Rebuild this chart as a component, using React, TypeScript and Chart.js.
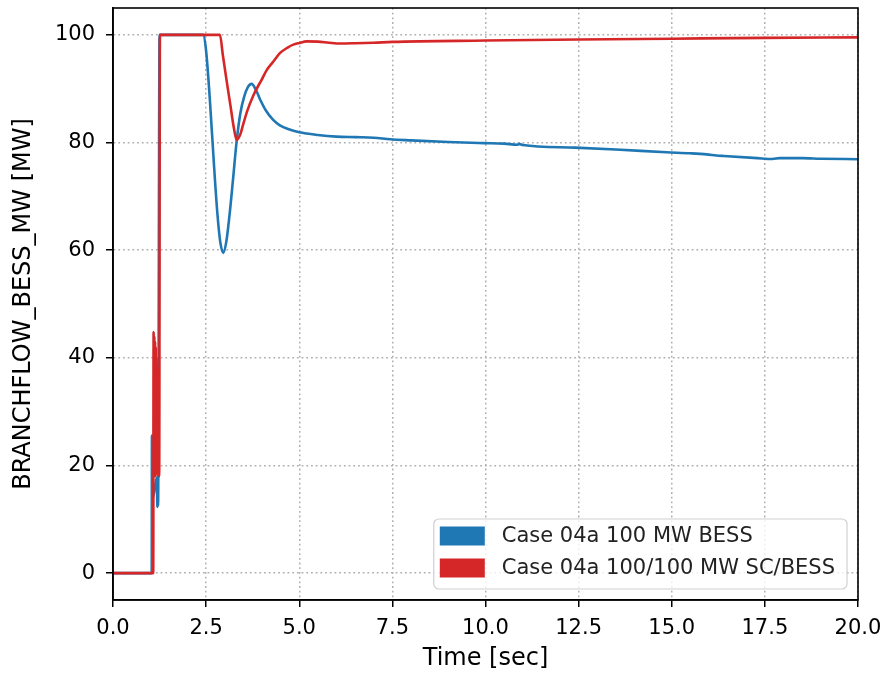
import { useEffect, useRef } from 'react';
import { Chart, registerables } from 'chart.js';

Chart.register(...registerables);

// Time axis [sec] and branch flow [MW] for the BESS-only case
const bessTime = [
  0, 1.04, 1.045, 1.05, 1.055, 1.06, 1.065, 1.07, 1.18, 1.19, 1.2, 1.21, 1.25,
  2.42, 2.5, 2.6, 2.7, 2.8, 2.88, 2.96, 3.04, 3.12, 3.22, 3.32, 3.42, 3.52, 3.62, 3.72,
  3.85, 3.95, 4.1, 4.3, 4.48, 4.7, 5.0, 5.5, 6.0, 6.5, 7.0, 7.44, 8.0, 9.0, 9.94,
  10.5, 10.85, 10.9, 11.0, 12.4, 13.5, 14.86, 15.5, 15.94, 16.2, 16.4, 17.3, 17.7,
  17.9, 18.5, 19.0, 20.0,
];
const bessMW = [
  0, 0, 25.6, 13, 25, 13.5, 24, 14, 17.8, 12.3, 17, 12.5, 100,
  100, 97, 88, 77, 67, 61.5, 59.5, 61.5, 66, 73, 80.3, 85.5, 88.5, 90.3, 90.9,
  89.6, 88, 86, 84.2, 83.2, 82.5, 81.9, 81.4, 81.1, 81.0, 80.9, 80.6, 80.4, 80.1, 79.9,
  79.8, 79.6, 79.75, 79.55, 79.05, 78.7, 78.2, 78.0, 77.8, 77.6, 77.5, 77.1, 76.95,
  77.1, 77.1, 77.0, 76.9,
];

// Time axis [sec] and branch flow [MW] for the SC + BESS case
const scBessTime = [
  0, 1.08, 1.09, 1.1, 1.11, 1.12, 1.13, 1.14, 1.15, 1.16, 1.17, 1.18, 1.19, 1.2,
  1.21, 1.22, 1.24, 1.26, 2.87, 2.95, 3.05, 3.15, 3.25, 3.32, 3.41, 3.5, 3.6, 3.77,
  4.0, 4.13, 4.3, 4.48, 4.7, 4.84, 5.0, 5.2, 5.5, 5.8, 6.09, 6.5, 7.0, 7.5, 10.0,
  12.5, 15.0, 17.5, 20.0,
];
const scBessMW = [
  0, 0, 44.8, 19, 44, 18.5, 43, 18, 42, 19, 40, 18.5, 38, 20,
  30, 25, 18, 100, 100, 96.2, 91.5, 87, 82.5, 80.5, 81.4, 83.5, 85.8, 88.8,
  91.8, 93.5, 95, 96.6, 97.7, 98.2, 98.5, 98.8, 98.75, 98.55, 98.4, 98.45, 98.55, 98.7, 98.95,
  99.15, 99.3, 99.45, 99.55,
];

const xTickValues = [0, 2.5, 5, 7.5, 10, 12.5, 15, 17.5, 20];
const yTickValues = [0, 20, 40, 60, 80, 100];
const seriesLabels = ['Case 04a 100 MW BESS', 'Case 04a 100/100 MW SC/BESS'];
const seriesColors = ['#1f77b4', '#d62728'];

const FONT = "'DejaVu Sans', sans-serif";

// Closed black frame around the plot area plus a boxed legend in its lower right corner
const frameAndLegend = {
  id: 'frameAndLegend',
  afterDatasetsDraw(chart: any) {
    const { ctx, chartArea } = chart;
    const { left, right, top, bottom } = chartArea;
    ctx.save();
    ctx.strokeStyle = '#000';
    ctx.lineWidth = 1.6;
    ctx.strokeRect(left, top, right - left, bottom - top);

    ctx.font = `21px ${FONT}`;
    const textW = Math.max(...seriesLabels.map((s) => ctx.measureText(s).width));
    const patchW = 45;
    const patchH = 19;
    const rowGap = 32;
    const boxW = 6 + patchW + 17 + textW + 12;
    const boxH = 70;
    const bx = right - 11 - boxW;
    const by = bottom - 11 - boxH;

    ctx.beginPath();
    const r = 5;
    ctx.moveTo(bx + r, by);
    ctx.arcTo(bx + boxW, by, bx + boxW, by + boxH, r);
    ctx.arcTo(bx + boxW, by + boxH, bx, by + boxH, r);
    ctx.arcTo(bx, by + boxH, bx, by, r);
    ctx.arcTo(bx, by, bx + boxW, by, r);
    ctx.closePath();
    ctx.fillStyle = 'rgba(255,255,255,0.8)';
    ctx.fill();
    ctx.strokeStyle = '#d0d0d0';
    ctx.lineWidth = 1.2;
    ctx.stroke();

    seriesLabels.forEach((label, i) => {
      const cy = by + 17 + i * rowGap;
      ctx.fillStyle = seriesColors[i];
      ctx.fillRect(bx + 6, cy - patchH / 2, patchW, patchH);
      ctx.fillStyle = '#222';
      ctx.textAlign = 'left';
      ctx.textBaseline = 'middle';
      ctx.fillText(label, bx + 6 + patchW + 17, cy + 1);
    });
    ctx.restore();
  },
};

export default function App() {
  const canvasRef = useRef<HTMLCanvasElement | null>(null);

  useEffect(() => {
    const canvas = canvasRef.current;
    if (!canvas) return;

    const toPoints = (xs: number[], ys: number[]) => xs.map((x, i) => ({ x, y: ys[i] }));

    const gridCommon = {
      color: '#b0b0b0',
      lineWidth: 1.5,
      tickColor: '#000',
      tickLength: 7,
      tickWidth: 1.5,
    };

    const chart = new Chart(canvas, {
      type: 'scatter',
      data: {
        datasets: [
          {
            label: seriesLabels[0],
            data: toPoints(bessTime, bessMW),
            showLine: true,
            borderColor: seriesColors[0],
            backgroundColor: seriesColors[0],
            borderWidth: 2.6,
            pointRadius: 0,
            cubicInterpolationMode: 'monotone',
            order: 1,
          },
          {
            label: seriesLabels[1],
            data: toPoints(scBessTime, scBessMW),
            showLine: true,
            borderColor: seriesColors[1],
            backgroundColor: seriesColors[1],
            borderWidth: 2.6,
            pointRadius: 0,
            cubicInterpolationMode: 'monotone',
            order: 0,
          },
        ],
      },
      options: {
        animation: false,
        responsive: false,
        devicePixelRatio: 1,
        layout: { padding: { top: 8, right: 24, left: 0, bottom: 0 } },
        plugins: {
          legend: { display: false },
          tooltip: { enabled: false },
        },
        scales: {
          x: {
            type: 'linear',
            min: 0,
            max: 20,
            afterBuildTicks: (s: any) => {
              s.ticks = xTickValues.map((value) => ({ value }));
            },
            afterFit: (s: any) => {
              s.height = 75;
              s.paddingLeft = 0;
              s.paddingRight = 0;
            },
            ticks: {
              callback: (v: any) => Number(v).toFixed(1),
              font: { family: FONT, size: 21 },
              color: '#000',
              padding: 9,
              maxRotation: 0,
              autoSkip: false,
            },
            grid: gridCommon,
            border: { display: true, color: '#000', width: 1.6, dash: [1.8, 2.9] },
            title: {
              display: true,
              text: 'Time [sec]',
              font: { family: FONT, size: 24 },
              color: '#000',
              padding: { top: 0, bottom: 2 },
            },
          },
          y: {
            type: 'linear',
            min: -5,
            max: 105,
            afterBuildTicks: (s: any) => {
              s.ticks = yTickValues.map((value) => ({ value }));
            },
            afterFit: (s: any) => {
              s.width = 113;
              s.paddingTop = 0;
              s.paddingBottom = 0;
            },
            ticks: {
              font: { family: FONT, size: 21 },
              color: '#000',
              padding: 11,
              autoSkip: false,
            },
            grid: gridCommon,
            border: { display: true, color: '#000', width: 1.6, dash: [1.8, 2.9] },
            title: {
              display: true,
              text: 'BRANCHFLOW_BESS_MW [MW]',
              font: { family: FONT, size: 24 },
              color: '#000',
              padding: { top: 9, bottom: 0 },
            },
          },
        },
      },
      plugins: [frameAndLegend],
    } as any);

    return () => chart.destroy();
  }, []);

  return (
    <div style={{ position: 'absolute', left: 0, top: 0, width: 882, height: 675, background: '#fff' }}>
      <canvas ref={canvasRef} width={882} height={675} style={{ display: 'block' }} />
    </div>
  );
}
